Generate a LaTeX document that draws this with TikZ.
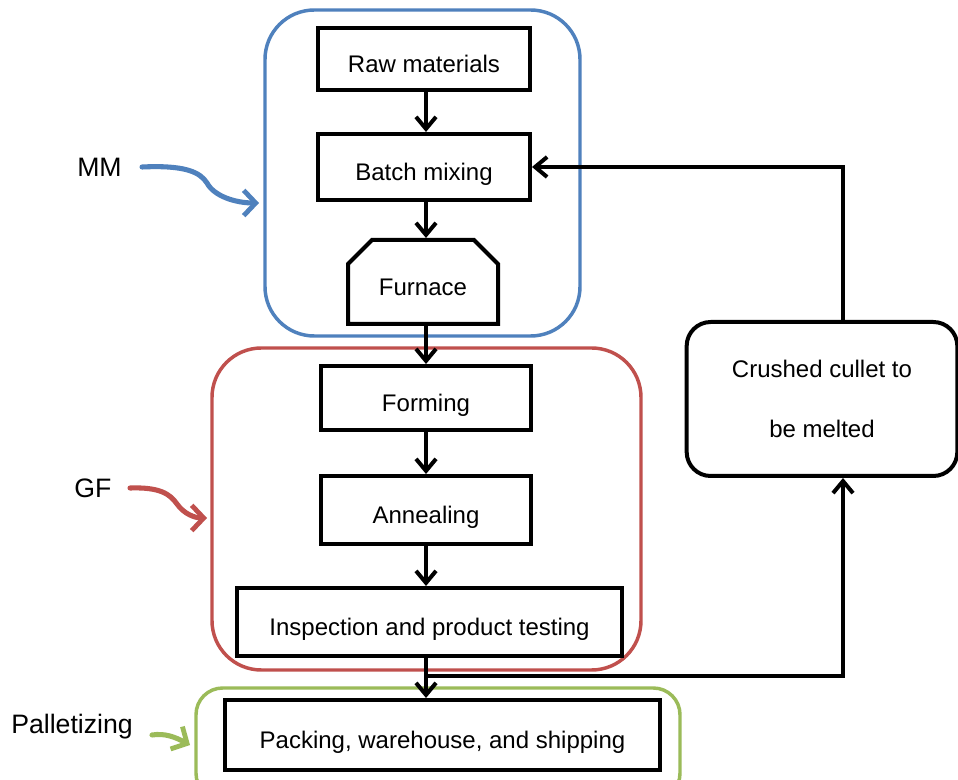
\documentclass[tikz,border=0pt]{standalone}
\usepackage{fontspec}
\setmainfont{Liberation Sans}
\usetikzlibrary{arrows.meta,shapes.misc}
\definecolor{mmblue}{RGB}{79,129,189}
\definecolor{gfred}{RGB}{192,80,77}
\definecolor{palgreen}{RGB}{155,187,89}
\tikzset{
  basebox/.style={draw=black, line width=3pt, fill=white, font=\fontsize{18}{21}\selectfont, inner sep=0pt},
  box/.style={basebox, text height=20pt, text depth=0pt},
  flow/.style={draw=black, line width=3pt, -{Straight Barb[length=9pt,width=15pt,line width=3pt]}},
  group/.style={line width=2.6pt, rounded corners=37pt},
  lab/.style={font=\fontsize{20}{24}\selectfont, inner sep=0pt},
  pointer/.style={line width=3.8pt, line cap=round, -{Straight Barb[length=9pt,width=19pt,line width=3.6pt]}}
}
\begin{document}
\begin{tikzpicture}[x=0.75pt,y=-0.75pt]
\clip (0,0) rectangle (958,780);
\fill[white] (0,0) rectangle (958,780);
% group frames
\draw[group, draw=mmblue] (265,10) rectangle (580,336);
\draw[group, draw=gfred] (212,348) rectangle (641,670);
\draw[group, draw=palgreen, rounded corners=20pt] (196,688) rectangle (680,800);
% process boxes
\node[box, minimum width=159pt, minimum height=46.5pt] (raw) at (424,59) {Raw materials};
\node[box, minimum width=159pt, minimum height=49.5pt] (batch) at (424,167) {Batch mixing};
\node[box, chamfered rectangle, chamfered rectangle corners={north west,north east}, chamfered rectangle xsep=9pt, chamfered rectangle ysep=9pt, minimum width=112.5pt, minimum height=63pt] (furnace) at (423,282) {Furnace};
\node[box, minimum width=157.5pt, minimum height=48pt] (forming) at (426,398) {Forming};
\node[box, minimum width=157.5pt, minimum height=51pt] (anneal) at (426,510) {Annealing};
\node[box, minimum width=288.75pt, minimum height=51pt] (insp) at (429.5,622) {Inspection and product testing};
\node[box, minimum width=326.25pt, minimum height=52.5pt] (pack) at (442.5,735) {Packing, warehouse, and shipping};
\node[basebox, rounded corners=18pt, minimum width=203pt, minimum height=115.5pt, align=center, font=\fontsize{18}{45}\selectfont] (crushed) at (822,399) {Crushed cullet to\\be melted};
% labels
\node[lab, anchor=west] (mm) at (77,167) {MM};
\node[lab, anchor=west] (gf) at (74,488) {GF};
\node[lab, anchor=west] (pal) at (11,727) {Palletizing};
% main flow
\draw[flow] (raw.south -| forming.north) -- (batch.north -| forming.north);
\draw[flow] (batch.south -| forming.north) -- (furnace.north -| forming.north);
\draw[flow] (furnace.south -| forming.north) -- (forming.north);
\draw[flow] (forming.south) -- (anneal.north);
\draw[flow] (anneal.south) -- (insp.north -| anneal.south);
\draw[flow] (insp.south -| anneal.south) -- (pack.north -| anneal.south);
% feedback loop
\coordinate (junc) at (426,676);
\draw[flow] (junc) -| ([xshift=15.75pt]crushed.south);
\draw[flow] ([xshift=15.75pt]crushed.north) |- (batch.east);
% pointers
\draw[pointer, draw=mmblue] (142,167) .. controls (185,165) and (200,172) .. (207,183) .. controls (214,196) and (235,203) .. (259,203);
\draw[pointer, draw=gfred] (130,488) .. controls (160,487) and (170,494) .. (177,504) .. controls (184,514) and (195,518) .. (207,518);
\draw[pointer, draw=palgreen] (152,735) .. controls (165,733) and (175,737) .. (190,745);
\end{tikzpicture}
\end{document}
